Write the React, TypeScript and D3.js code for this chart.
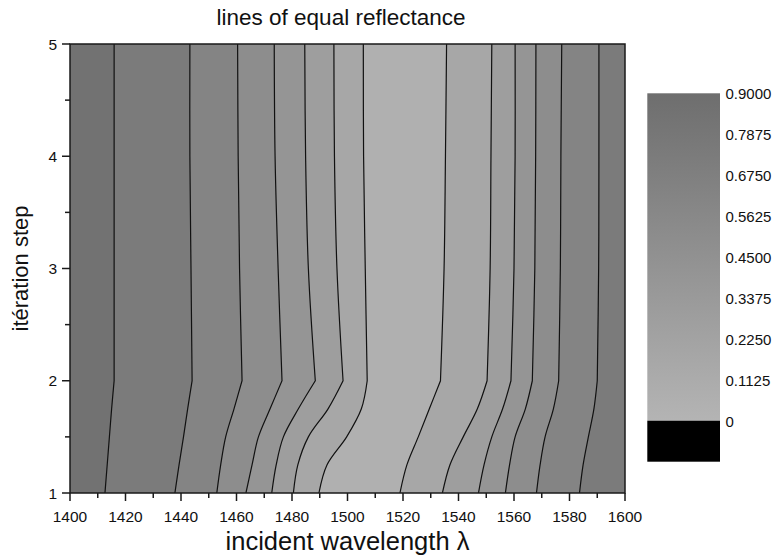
import React from "react";
import * as d3 from "d3";

// iteration steps at which the contour lines are sampled
const stepRows = [1, 1.25, 1.5, 1.75, 2, 3, 4, 5];

// contour levels (colour-bar ticks)
const levels = [0, 0.1125, 0.225, 0.3375, 0.45, 0.5625, 0.675, 0.7875, 0.9];

// wavelength position of each contour line at each step in stepRows
// left flank (reflectance decreasing towards the minimum)
const L_07875 = [1412.6, 1413.4, 1414.2, 1415.0, 1415.9, 1415.9, 1415.9, 1415.9];
const L_06750 = [1437.8, 1439.3, 1440.9, 1442.4, 1444.0, 1443.6, 1443.2, 1443.2];
const L_05625 = [1452.9, 1454.3, 1456.1, 1459.1, 1462.0, 1461.1, 1460.6, 1460.4];
const L_04500 = [1463.4, 1465.6, 1467.9, 1472.1, 1476.4, 1475.0, 1473.9, 1473.6];
const L_03375 = [1472.7, 1474.3, 1476.9, 1482.3, 1488.4, 1485.9, 1484.9, 1484.6];
const L_02250 = [1480.5, 1482.1, 1485.9, 1493.0, 1498.4, 1496.2, 1495.3, 1495.1];
const L_01125 = [1489.7, 1492.6, 1499.7, 1505.0, 1507.1, 1506.4, 1505.8, 1505.7];
// right flank (reflectance increasing away from the minimum)
const R_01125 = [1518.9, 1521.4, 1525.5, 1529.5, 1533.5, 1534.8, 1535.3, 1535.7];
const R_02250 = [1534.2, 1536.9, 1541.7, 1546.8, 1550.3, 1551.4, 1551.7, 1552.0];
const R_03375 = [1547.2, 1549.2, 1552.0, 1555.9, 1558.9, 1560.0, 1560.4, 1560.4];
const R_04500 = [1556.9, 1558.4, 1560.4, 1564.1, 1566.6, 1567.5, 1567.8, 1567.9];
const R_05625 = [1568.1, 1569.4, 1571.2, 1574.2, 1576.1, 1576.7, 1576.9, 1577.2];
const R_06750 = [1583.6, 1584.9, 1586.8, 1588.8, 1590.0, 1590.5, 1590.6, 1590.6];

const leftLines = [
  { level: 0.1125, lam: L_01125 },
  { level: 0.225, lam: L_02250 },
  { level: 0.3375, lam: L_03375 },
  { level: 0.45, lam: L_04500 },
  { level: 0.5625, lam: L_05625 },
  { level: 0.675, lam: L_06750 },
  { level: 0.7875, lam: L_07875 },
];
const rightLines = [
  { level: 0.1125, lam: R_01125 },
  { level: 0.225, lam: R_02250 },
  { level: 0.3375, lam: R_03375 },
  { level: 0.45, lam: R_04500 },
  { level: 0.5625, lam: R_05625 },
  { level: 0.675, lam: R_06750 },
];

const xTicks = [1400, 1420, 1440, 1460, 1480, 1500, 1520, 1540, 1560, 1580, 1600];
const yTicks = [1, 2, 3, 4, 5];

const FONT = "'Liberation Sans', Arial, Helvetica, sans-serif";

export default function App() {
  const W = 772, H = 556;
  const pl = 70, pr = 625, pt = 44, pb = 493;
  const x = d3.scaleLinear().domain([1400, 1600]).range([pl, pr]);
  const y = d3.scaleLinear().domain([1, 5]).range([pb, pt]);
  const color = d3.scaleLinear<string>().domain([0, 0.9]).range(["#b4b4b4", "#6e6e6e"]);
  const step = 0.1125;

  const lineGen = d3.line<[number, number]>().curve(d3.curveCatmullRom.alpha(0.5));
  const linePath = (lam: number[]) => {
    const pts: [number, number][] = stepRows.map((s, i) => [x(lam[i]), y(s)]);
    const lower = lineGen(pts.slice(0, 5)) as string;
    const upper = lineGen(pts.slice(4)) as string;
    return lower + upper.replace(/^M/, "L");
  };

  const yBar = d3.scaleLinear().domain([0, 0.9]).range([420.7, 93.3]);
  const barX0 = 647.3, barX1 = 720;

  const xMinor = d3.range(1410, 1600, 20);
  const yMinor = d3.range(1.5, 5, 1);

  return (
    <svg width={W} height={H} style={{ position: "absolute", left: 0, top: 0, background: "#fff" }} fontFamily={FONT}>
      <defs>
        <clipPath id="plotClip">
          <rect x={pl} y={pt} width={pr - pl} height={pb - pt} />
        </clipPath>
        <linearGradient id="barGrad" x1="0" y1="1" x2="0" y2="0">
          <stop offset="0%" stopColor={color(0)} />
          <stop offset="100%" stopColor={color(0.9)} />
        </linearGradient>
      </defs>

      <g clipPath="url(#plotClip)">
        <rect x={pl} y={pt} width={pr - pl} height={pb - pt} fill={color(step / 2)} />
        {leftLines.map((l) => (
          <path
            key={"lf" + l.level}
            d={linePath(l.lam) + `L${x(1400) - 2},${y(5) - 2}L${x(1400) - 2},${y(1) + 2}Z`}
            fill={color(l.level + step / 2)}
          />
        ))}
        {rightLines.map((l) => (
          <path
            key={"rf" + l.level}
            d={linePath(l.lam) + `L${x(1600) + 2},${y(5) - 2}L${x(1600) + 2},${y(1) + 2}Z`}
            fill={color(l.level + step / 2)}
          />
        ))}
        {[...leftLines, ...rightLines].map((l, i) => (
          <path key={"ln" + i} d={linePath(l.lam)} fill="none" stroke="#111" strokeWidth={1.2} />
        ))}
      </g>

      <rect x={pl} y={pt} width={pr - pl} height={pb - pt} fill="none" stroke="#1a1a1a" strokeWidth={1.5} />

      {/* x axis ticks */}
      {xTicks.map((t) => (
        <g key={"xt" + t}>
          <line x1={x(t)} x2={x(t)} y1={pb} y2={pb + 8} stroke="#1a1a1a" strokeWidth={1.5} />
          <text x={x(t)} y={521.5} fontSize={15.5} textAnchor="middle" fill="#111">{t}</text>
        </g>
      ))}
      {xMinor.map((t) => (
        <line key={"xm" + t} x1={x(t)} x2={x(t)} y1={pb} y2={pb + 5} stroke="#1a1a1a" strokeWidth={1.5} />
      ))}

      {/* y axis ticks */}
      {yTicks.map((t) => (
        <g key={"yt" + t}>
          <line x1={pl - 8} x2={pl} y1={y(t)} y2={y(t)} stroke="#1a1a1a" strokeWidth={1.5} />
          <text x={57} y={y(t) + 5.5} fontSize={15.5} textAnchor="end" fill="#111">{t}</text>
        </g>
      ))}
      {yMinor.map((t) => (
        <line key={"ym" + t} x1={pl - 5} x2={pl} y1={y(t)} y2={y(t)} stroke="#1a1a1a" strokeWidth={1.5} />
      ))}

      {/* titles */}
      <text x={341} y={25} fontSize={22.5} textAnchor="middle" fill="#111">lines of equal reflectance</text>
      <text x={(pl + pr) / 2} y={550} fontSize={25.5} textAnchor="middle" fill="#111">incident wavelength λ</text>
      <text transform={`translate(28,${(pt + pb) / 2}) rotate(-90)`} fontSize={22} textAnchor="middle" fill="#111">itération step</text>

      {/* colour bar */}
      <rect x={barX0} y={yBar(0.9)} width={barX1 - barX0} height={yBar(0) - yBar(0.9)} fill="url(#barGrad)" />
      <rect x={barX0} y={yBar(0)} width={barX1 - barX0} height={41} fill="#000" />
      {levels.map((v) => (
        <text key={"cb" + v} x={725.5} y={yBar(v) + 6} fontSize={15} fill="#111">
          {v === 0 ? "0" : d3.format(".4f")(v)}
        </text>
      ))}
    </svg>
  );
}
